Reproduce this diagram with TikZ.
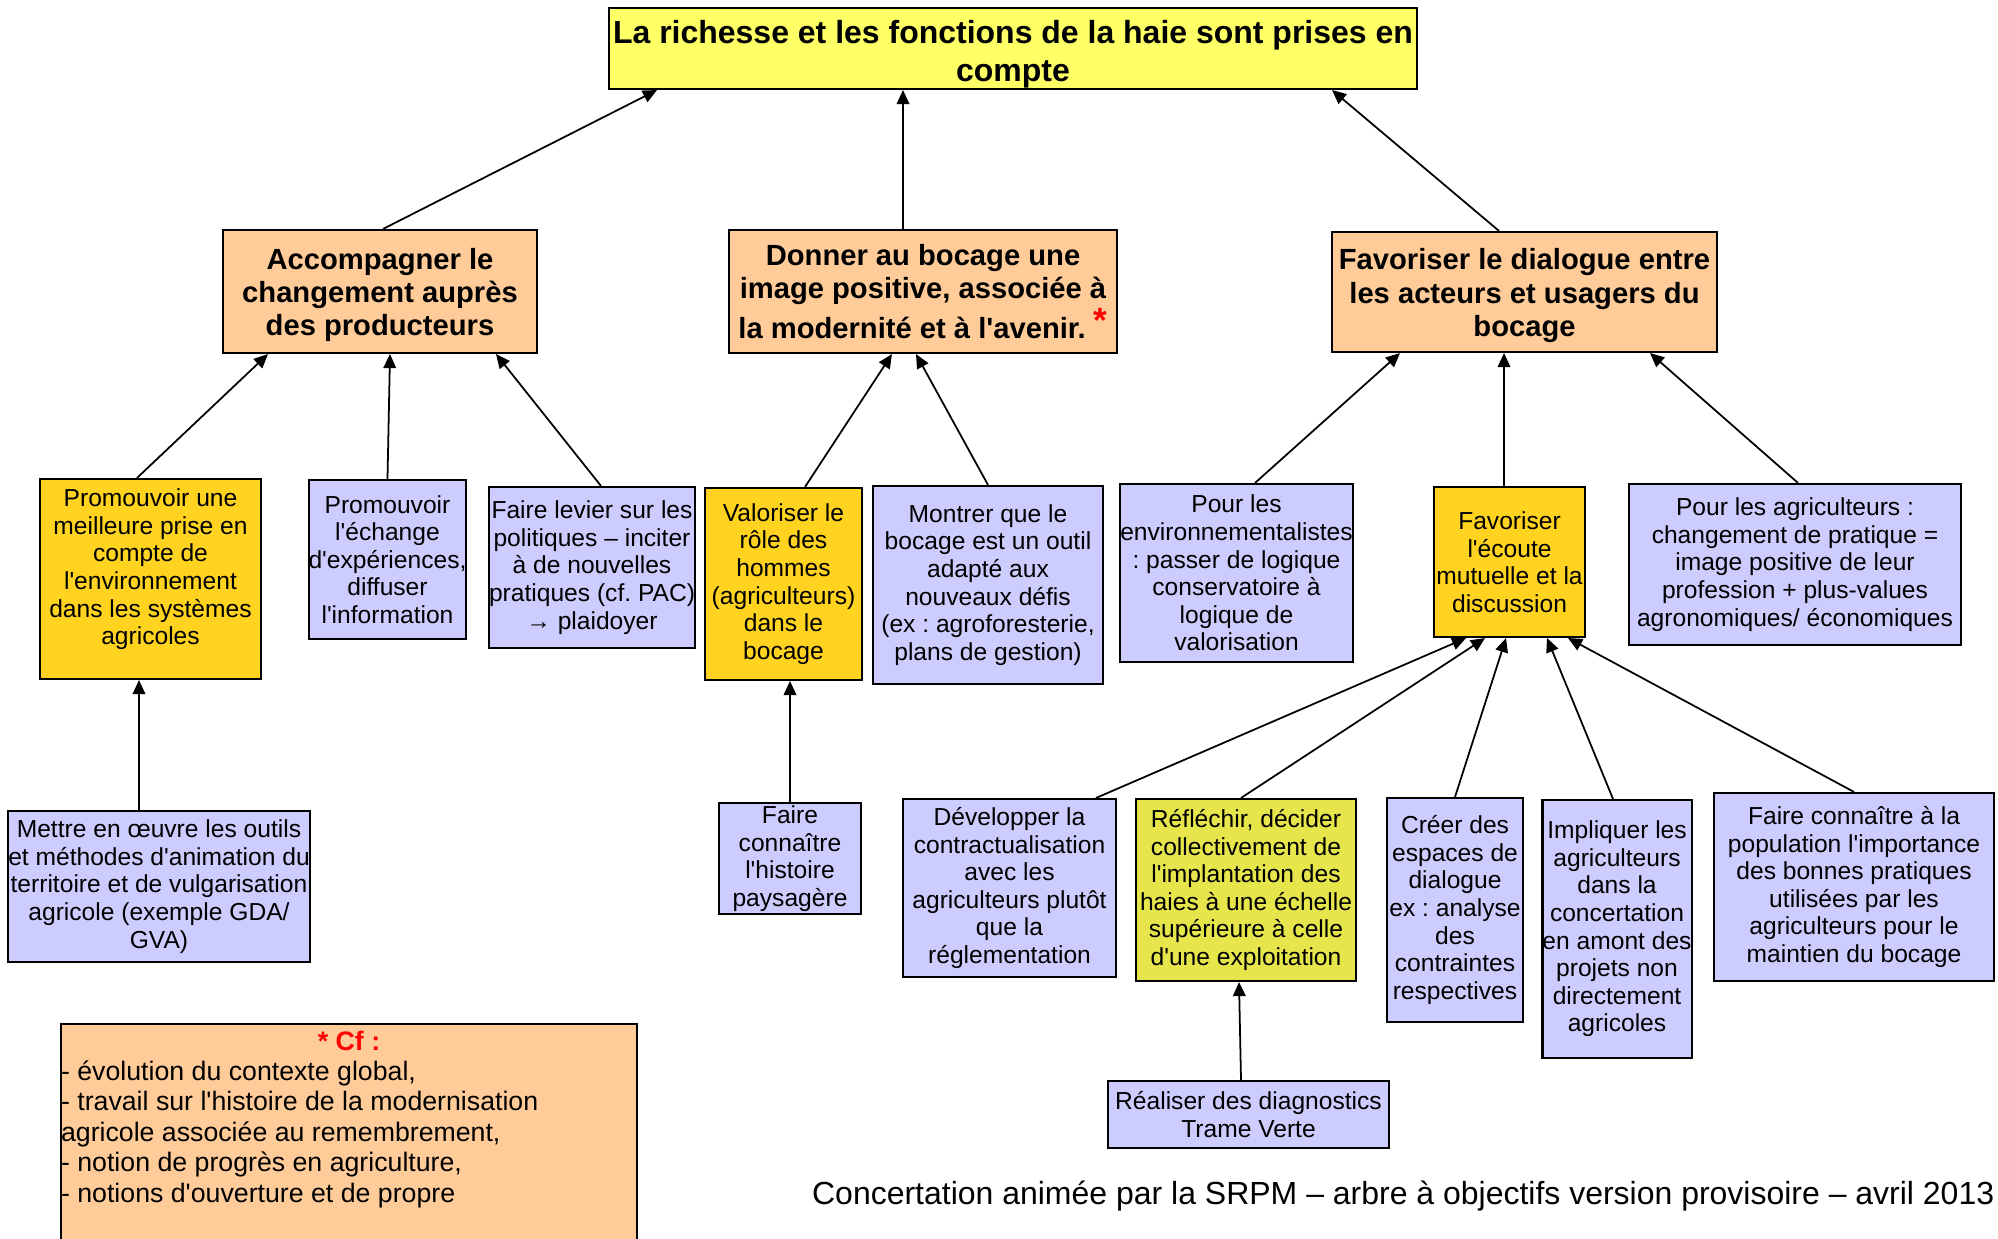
\documentclass[tikz,border=0pt]{standalone}
\usepackage{fontspec}
\setmainfont{Liberation Sans}[Ligatures=TeXOff]
\frenchspacing
\usetikzlibrary{arrows.meta,positioning}
\definecolor{lemon}{HTML}{FFFF66}
\definecolor{peach}{HTML}{FFCC99}
\definecolor{gold}{HTML}{FFD320}
\definecolor{lav}{HTML}{CCCCFF}
\definecolor{lime}{HTML}{E6E64C}

\begin{document}
\begin{tikzpicture}[>={Triangle[length=4pt,width=3.6pt]},
  box/.style={draw=black,line width=0.6pt,inner sep=0pt,align=center},
  goal/.style={box,fill=lemon,font=\bfseries\fontsize{9.1}{10.8}\selectfont},
  axis/.style={box,fill=peach,font=\bfseries\fontsize{8.3}{9.45}\selectfont},
  act/.style={box,fill=lav,font=\fontsize{7}{7.85}\selectfont},
  link/.style={->,line width=0.5pt}]
  \clip (0,0) rectangle (19.98,-12.38);

  % objectif global
  \node[goal,minimum width=8.08cm,minimum height=0.81cm,text height=20.5pt] (top) at (10.13,-0.485)
    {La richesse et les fonctions de la haie sont prises en\\compte};

  % axes
  \node[axis,minimum width=3.14cm,minimum height=1.23cm,text height=27pt] (acc) at (3.80,-2.915)
    {Accompagner le\\changement auprès\\des producteurs};
  \node[axis,minimum width=3.88cm,minimum height=1.23cm] (don) at (9.23,-2.915)
    {Donner au bocage une\\image positive, associée à\\la modernité et à l'avenir. {\color{red}\raisebox{0.35ex}{\fontsize{10}{10}\selectfont*}}};
  \node[axis,minimum width=3.85cm,minimum height=1.20cm,text height=27pt] (fav) at (15.245,-2.92)
    {Favoriser le dialogue entre\\les acteurs et usagers du\\bocage};

  % actions
  \node[act,fill=gold,minimum width=2.21cm,minimum height=2.00cm,text depth=7pt] (pm) at (1.505,-5.79)
    {Promouvoir une\\meilleure prise en\\compte de\\l'environnement\\dans les systèmes\\agricoles};
  \node[act,minimum width=1.57cm,minimum height=1.59cm] (pe) at (3.875,-5.595)
    {Promouvoir\\l'échange\\d'expériences,\\diffuser\\l'information};
  \node[act,minimum width=2.04cm,minimum height=1.61cm] (fl) at (5.92,-5.675)
    {Faire levier sur les\\politiques – inciter\\à de nouvelles\\pratiques (cf. PAC)\\→ plaidoyer};
  \node[act,fill=gold,minimum width=1.57cm,minimum height=1.92cm] (vr) at (7.835,-5.84)
    {Valoriser le\\rôle des\\hommes\\(agriculteurs)\\dans le\\bocage};
  \node[act,minimum width=2.30cm,minimum height=1.98cm] (mo) at (9.88,-5.85)
    {Montrer que le\\bocage est un outil\\adapté aux\\nouveaux défis\\(ex : agroforesterie,\\plans de gestion)};
  \node[act,minimum width=2.29cm,minimum height=1.78cm] (pen) at (12.365,-5.73)
    {Pour les\\environnementalistes\\: passer de logique\\conservatoire à\\logique de\\valorisation};
  \node[act,fill=gold,minimum width=1.51cm,minimum height=1.50cm] (fe) at (15.095,-5.62)
    {Favoriser\\l'écoute\\mutuelle et la\\discussion};
  \node[act,minimum width=3.32cm,minimum height=1.61cm] (pa) at (17.95,-5.645)
    {Pour les agriculteurs :\\changement de pratique =\\image positive de leur\\profession + plus-values\\agronomiques/ économiques};

  % sous-actions
  \node[act,minimum width=3.00cm,minimum height=1.51cm] (me) at (1.59,-8.865)
    {Mettre en œuvre les outils\\et méthodes d'animation du\\territoire et de vulgarisation\\agricole (exemple GDA/\\GVA)};
  \node[act,minimum width=1.42cm,minimum height=1.11cm] (fh) at (7.90,-8.585)
    {Faire\\connaître\\l'histoire\\paysagère};
  \node[act,minimum width=2.13cm,minimum height=1.78cm] (dc) at (10.095,-8.88)
    {Développer la\\contractualisation\\avec les\\agriculteurs plutôt\\que la\\réglementation};
  \node[act,fill=lime,minimum width=2.20cm,minimum height=1.82cm] (rd) at (12.46,-8.90)
    {Réfléchir, décider\\collectivement de\\l'implantation des\\haies à une échelle\\supérieure à celle\\d'une exploitation};
  \node[act,minimum width=1.36cm,minimum height=2.24cm] (ce) at (14.55,-9.10)
    {Créer des\\espaces de\\dialogue\\ex : analyse\\des\\contraintes\\respectives};
  \node[act,minimum width=1.46cm,minimum height=2.58cm] (ia) at (16.17,-9.29)
    {Impliquer les\\agriculteurs\\dans la\\concertation\\en amont des\\projets non\\directement\\agricoles};
  \node[act,minimum width=2.80cm,minimum height=1.88cm] (fp) at (18.54,-8.87)
    {Faire connaître à la\\population l'importance\\des bonnes pratiques\\utilisées par les\\agriculteurs pour le\\maintien du bocage};
  \node[act,minimum width=2.81cm,minimum height=0.67cm] (rt) at (12.485,-11.145)
    {Réaliser des diagnostics\\Trame Verte};

  % renvoi et legende
  \node[box,fill=peach,anchor=north west,align=left,font=\fontsize{7.6}{8.65}\selectfont] (cf) at (0.60,-10.23)
    {\parbox[t][2.5cm][t]{5.76cm}{\vspace{1.9pt}\centering{\color{red}\bfseries * Cf :}\par\raggedright
     - évolution du contexte global,\\
     - travail sur l'histoire de la modernisation\\
     agricole associée au remembrement,\\
     - notion de progrès en agriculture,\\
     - notions d'ouverture et de propre}};
  \node[font=\fontsize{9.1}{11}\selectfont,inner sep=0pt,anchor=base east] (foot) at (19.95,-12.04)
    {Concertation animée par la SRPM – arbre à objectifs version provisoire – avril 2013};

  % fleches
  \draw[link] ([xshift=0.03cm]acc.north) -- ([xshift=-3.56cm]top.south);
  \draw[link] ([xshift=-0.2cm]don.north) -- ([xshift=-1.1cm]top.south);
  \draw[link] ([xshift=-0.255cm]fav.north) -- ([xshift=3.19cm]top.south);

  \draw[link] ([xshift=-0.135cm]pm.north) -- ([xshift=-1.12cm]acc.south);
  \draw[link] (pe.north) -- ([xshift=0.1cm]acc.south);
  \draw[link] ([xshift=0.09cm]fl.north) -- ([xshift=1.16cm]acc.south);
  \draw[link] ([xshift=0.215cm]vr.north) -- ([xshift=-0.31cm]don.south);
  \draw[link] (mo.north) -- ([xshift=-0.07cm]don.south);
  \draw[link] ([xshift=0.185cm]pen.north) -- ([xshift=-1.245cm]fav.south);
  \draw[link] ([xshift=-0.055cm]fe.north) -- ([xshift=-0.205cm]fav.south);
  \draw[link] ([xshift=0.03cm]pa.north) -- ([xshift=1.255cm]fav.south);

  \draw[link] ([xshift=-0.2cm]me.north) -- ([xshift=-0.115cm]pm.south);
  \draw[link] (fh.north) -- ([xshift=0.065cm]vr.south);
  \draw[link] ([xshift=0.865cm]dc.north) -- ([xshift=-0.435cm]fe.south);
  \draw[link] ([xshift=-0.05cm]rd.north) -- ([xshift=-0.245cm]fe.south);
  \draw[link] (ce.north) -- ([xshift=-0.035cm]fe.south);
  \draw[link] ([xshift=-0.04cm]ia.north) -- ([xshift=0.375cm]fe.south);
  \draw[link] (fp.north) -- ([xshift=0.585cm]fe.south);
  \draw[link] ([xshift=-0.075cm]rt.north) -- ([xshift=-0.07cm]rd.south);
\end{tikzpicture}
\end{document}
